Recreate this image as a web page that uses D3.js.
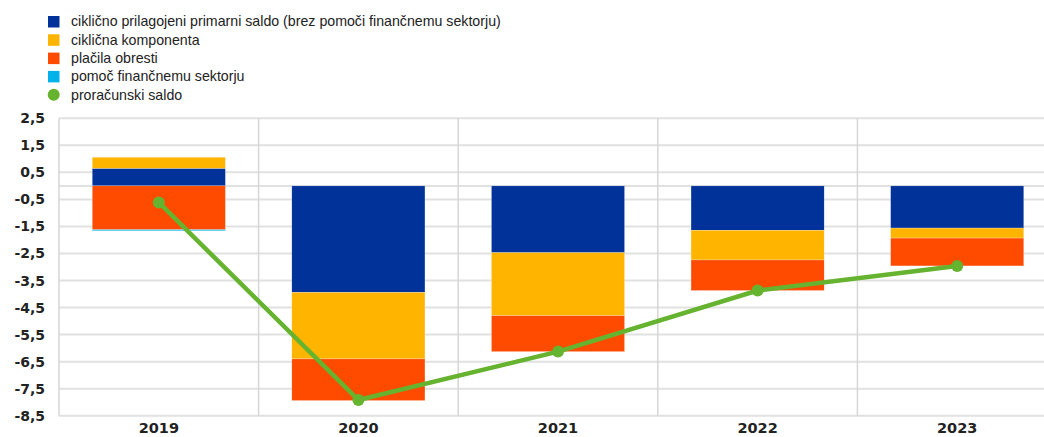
<!DOCTYPE html>
<html lang="sl">
<head>
<meta charset="UTF-8">
<title>Proračunski saldo</title>
<script src="https://cdnjs.cloudflare.com/ajax/libs/d3/7.8.5/d3.min.js"></script>
<style>
  body { margin: 0; background: #fff; font-family: "Liberation Sans", Arial, sans-serif; }
  svg { display: block; }
</style>
</head>
<body>
<div id="chart"></div>
<script>
// podatki
const years = ["2019", "2020", "2021", "2022", "2023"];
const primarniSaldo = [0.65, -3.94, -2.47, -1.64, -1.56];
const ciklicnaKomponenta = [0.41, -2.46, -2.33, -1.10, -0.37];
const placilaObresti = [-1.62, -1.54, -1.33, -1.13, -1.03];
const pomocFinSektorju = [-0.04, 0, 0, 0, 0];
const proracunskiSaldo = [-0.61, -7.92, -6.13, -3.87, -2.96];
const yTicks = [2.5, 1.5, 0.5, -0.5, -1.5, -2.5, -3.5, -4.5, -5.5, -6.5, -7.5, -8.5];

const series = [
  { name: "ciklično prilagojeni primarni saldo (brez pomoči finančnemu sektorju)", values: primarniSaldo, color: "#003299" },
  { name: "ciklična komponenta", values: ciklicnaKomponenta, color: "#ffb400" },
  { name: "plačila obresti", values: placilaObresti, color: "#ff4b00" },
  { name: "pomoč finančnemu sektorju", values: pomocFinSektorju, color: "#00b1ea" }
];
const lineColor = "#65b32e";
const axisFont = "DejaVu Sans, Verdana, sans-serif";

const width = 1044, height = 437;
const margin = { top: 118.3, left: 59, bottom: 415.7 };
const plotRight = 1057;

const svg = d3.select("#chart").append("svg")
  .attr("width", width).attr("height", height);

const x = d3.scaleBand().domain(years)
  .range([margin.left, plotRight]).paddingInner(0).paddingOuter(0);
const y = d3.scaleLinear().domain([-8.5, 2.5])
  .range([margin.bottom, margin.top]);

// mreža
const grid = svg.append("g");
grid.selectAll("line.h").data(yTicks.concat([0])).enter().append("line")
  .attr("x1", margin.left).attr("x2", width)
  .attr("y1", d => y(d)).attr("y2", d => y(d))
  .attr("stroke", "#e1e1e1").attr("stroke-width", 2);
grid.selectAll("line.v").data(years).enter().append("line")
  .attr("x1", d => x(d)).attr("x2", d => x(d))
  .attr("y1", y(2.5)).attr("y2", y(-8.5))
  .attr("stroke", "#d6d6d6").attr("stroke-width", 1.5);

// y os
svg.append("g")
  .attr("transform", `translate(${margin.left},0)`)
  .call(d3.axisLeft(y).tickValues(yTicks).tickSize(0).tickPadding(14)
    .tickFormat(d => d3.format(".1f")(d).replace(".", ",").replace("−", "-")))
  .call(g => g.select(".domain").remove())
  .selectAll("text")
  .attr("font-family", axisFont)
  .attr("font-size", 14).attr("font-weight", "bold").attr("fill", "#222");

// x os
svg.append("g")
  .attr("transform", `translate(0,${y(-8.5)})`)
  .call(d3.axisBottom(x).tickSize(0).tickPadding(7))
  .call(g => g.select(".domain").remove())
  .selectAll("text")
  .attr("font-family", axisFont)
  .attr("font-size", 14.5).attr("font-weight", "bold").attr("fill", "#222");

// stolpci (pozitivni in negativni ločeno)
const barW = x.bandwidth() * 0.667;
years.forEach((yr, i) => {
  let pos = 0, neg = 0;
  series.forEach(s => {
    const v = s.values[i];
    if (v === 0) return;
    let y0, y1;
    if (v > 0) { y0 = pos; y1 = pos + v; pos = y1; }
    else { y0 = neg; y1 = neg + v; neg = y1; }
    svg.append("rect")
      .attr("x", x(yr) + (x.bandwidth() - barW) / 2)
      .attr("width", barW)
      .attr("y", y(Math.max(y0, y1)))
      .attr("height", Math.abs(y(y0) - y(y1)))
      .attr("fill", s.color)
      .attr("stroke", "#ffffff").attr("stroke-width", 0.4).attr("stroke-opacity", 0.6);
  });
});

// črta
const line = d3.line()
  .x((d, i) => x(years[i]) + x.bandwidth() / 2)
  .y(d => y(d));
svg.append("path").datum(proracunskiSaldo)
  .attr("d", line).attr("fill", "none")
  .attr("stroke", lineColor).attr("stroke-width", 4.5);
svg.selectAll("circle.pt").data(proracunskiSaldo).enter().append("circle")
  .attr("cx", (d, i) => x(years[i]) + x.bandwidth() / 2)
  .attr("cy", d => y(d)).attr("r", 6)
  .attr("fill", lineColor);

// legenda
const legend = svg.append("g");
const legendItems = series.map(s => ({ name: s.name, color: s.color, type: "rect" }))
  .concat([{ name: "proračunski saldo", color: lineColor, type: "circle" }]);
legendItems.forEach((d, i) => {
  const cy = 21.5 + i * 18.3;
  if (d.type === "rect") {
    legend.append("rect").attr("x", 48).attr("y", cy - 5.5)
      .attr("width", 11.5).attr("height", 11.5).attr("fill", d.color);
  } else {
    legend.append("circle").attr("cx", 53.7).attr("cy", cy).attr("r", 6).attr("fill", d.color);
  }
  legend.append("text").attr("x", 71).attr("y", cy).attr("dy", "0.35em")
    .attr("font-size", 14.2).attr("fill", "#222").text(d.name);
});
</script>
</body>
</html>
